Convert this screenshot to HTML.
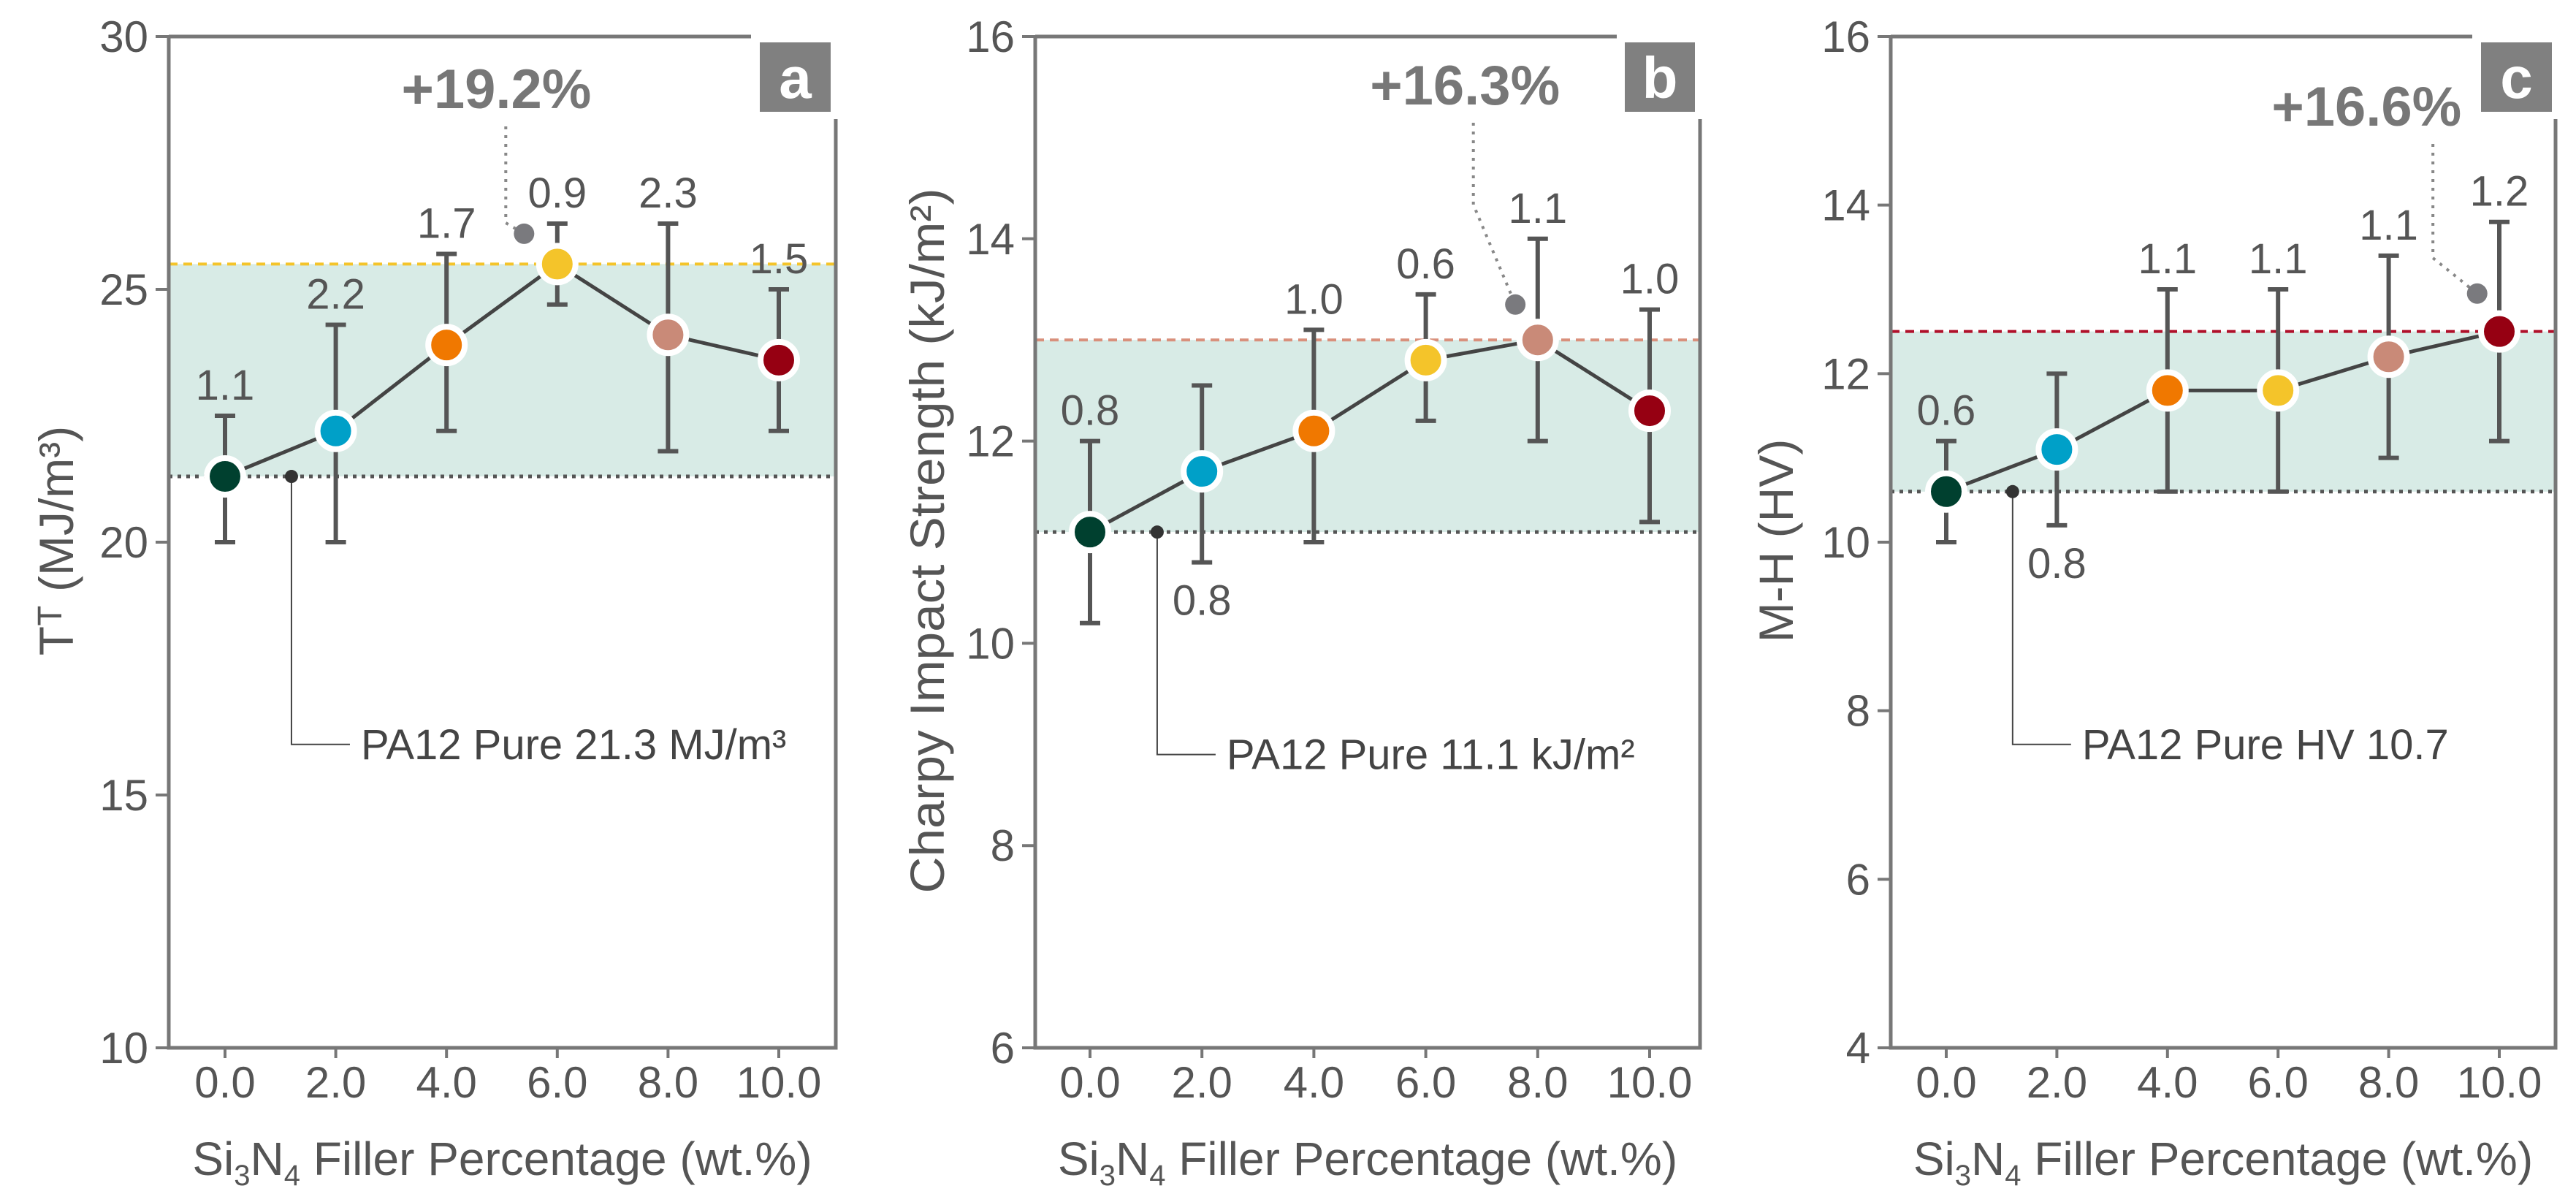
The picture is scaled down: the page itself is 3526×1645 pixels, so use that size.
<!DOCTYPE html>
<html><head><meta charset="utf-8">
<style>
html,body{margin:0;padding:0;background:#fff;}
svg{display:block;font-family:"Liberation Sans",sans-serif;}
</style></head>
<body>
<svg id="chart" width="3526" height="1645" viewBox="0 0 3526 1645" xmlns="http://www.w3.org/2000/svg"></svg>
<script>
const xCategories = [0, 2, 4, 6, 8, 10];
const xTickLabels = ["0.0", "2.0", "4.0", "6.0", "8.0", "10.0"];
const colors = ["#00402f", "#00a0c8", "#f07800", "#f4c42a", "#c98a78", "#960012"];

const aValues = [21.3, 22.2, 23.9, 25.5, 24.1, 23.6];
const aErrHi = [22.5, 24.3, 25.7, 26.3, 26.3, 25.0];
const aErrLo = [20.0, 20.0, 22.2, 24.7, 21.8, 22.2];
const aErrLabels = ["1.1", "2.2", "1.7", "0.9", "2.3", "1.5"];
const aYTicks = [10, 15, 20, 25, 30];

const bValues = [11.1, 11.7, 12.1, 12.8, 13.0, 12.3];
const bErrHi = [12.0, 12.55, 13.1, 13.45, 14.0, 13.3];
const bErrLo = [10.2, 10.8, 11.0, 12.2, 12.0, 11.2];
const bErrLabels = ["0.8", "0.8", "1.0", "0.6", "1.1", "1.0"];
const bYTicks = [6, 8, 10, 12, 14, 16];

const cValues = [10.6, 11.1, 11.8, 11.8, 12.2, 12.5];
const cErrHi = [11.2, 12.0, 13.0, 13.0, 13.4, 13.8];
const cErrLo = [10.0, 10.2, 10.6, 10.6, 11.0, 11.2];
const cErrLabels = ["0.6", "0.8", "1.1", "1.1", "1.1", "1.2"];
const cYTicks = [4, 6, 8, 10, 12, 14, 16];

const panels = [
  {id:"a", left:231, right:1144, x0:308, x10:1066, ymin:10, ymax:30, vals:aValues, hi:aErrHi, lo:aErrLo, labs:aErrLabels, ticks:aYTicks,
   lineEnd:1028, box:[1040,1137], lineColor:"#f4c42a", base:21.3, peak:25.5, below:[], pct:"+19.2%", pctX:4.9, lineX:5.07, pctBase:148, bendY:305, dotX:5.4, dotY:26.1,
   pureY:16.0, pure:"PA12 Pure 21.3 MJ/m³", title:"Tᵀ (MJ/m³)", titleX:78, titleLen:null},
  {id:"b", left:1417, right:2327, x0:1492, x10:2258, ymin:6, ymax:16, vals:bValues, hi:bErrHi, lo:bErrLo, labs:bErrLabels, ticks:bYTicks,
   lineEnd:2213, box:[2224,2320], lineColor:"#d9907c", base:11.1, peak:13.0, below:[1], pct:"+16.3%", pctX:6.7, lineX:6.85, pctBase:143, bendY:280, dotX:7.6, dotY:13.35,
   pureY:8.9, pure:"PA12 Pure 11.1 kJ/m²", title:"Charpy Impact Strength (kJ/m²)", titleX:1270, titleLen:965},
  {id:"c", left:2588, right:3498, x0:2664, x10:3421, ymin:4, ymax:16, vals:cValues, hi:cErrHi, lo:cErrLo, labs:cErrLabels, ticks:cYTicks,
   lineEnd:3384, box:[3396,3493], lineColor:"#b0102a", base:10.6, peak:12.5, below:[1], pct:"+16.6%", pctX:7.6, lineX:8.8, pctBase:172, bendY:353, dotX:9.6, dotY:12.95,
   pureY:7.6, pure:"PA12 Pure HV 10.7", title:"M-H (HV)", titleX:2432, titleLen:null}
];

const svg = document.getElementById('chart');
const NS = "http://www.w3.org/2000/svg";
function mk(tag, attrs, parent, text){
  const e = document.createElementNS(NS, tag);
  for (const k in attrs) e.setAttribute(k, attrs[k]);
  if (text !== undefined) e.textContent = text;
  (parent || svg).appendChild(e);
  return e;
}
const TOP = 50, BOT = 1434;
const txt = "#555";

panels.forEach(p => {
  const g = mk('g', {});
  
  
  const sx = v => p.x0 + (v - 0) * (p.x10 - p.x0) / 10;
  const sy = v => BOT - (v - p.ymin) * (BOT - TOP) / (p.ymax - p.ymin);

  const band = mk('rect', {x:p.left, y:sy(p.peak), width:p.right - p.left, height:sy(p.base) - sy(p.peak), fill:"#d8ebe6"}, g);
  
  
  const pk = mk('line', {x1:p.left, x2:p.right, y1:sy(p.peak), y2:sy(p.peak), stroke:p.lineColor, 'stroke-width':4, 'stroke-dasharray':'12 8'}, g);
  
  
  const bl = mk('line', {x1:p.left, x2:p.right, y1:sy(p.base), y2:sy(p.base), stroke:"#555", 'stroke-width':5, 'stroke-dasharray':'5 7'}, g);
  
  

  const ax = mk('path', {d:`M${p.left},${TOP} L${p.left},${BOT} L${p.right},${BOT} L${p.right},163 M${p.left},${TOP} L${p.lineEnd},${TOP}`, fill:"none", stroke:"#777", 'stroke-width':5}, g);
  
  
  const bx = mk('rect', {x:p.box[0], y:58, width:p.box[1]-p.box[0], height:95, fill:"#808080"}, g);
  
  
  const bt = mk('text', {x:(p.box[0]+p.box[1])/2, y:134, 'text-anchor':'middle', 'font-size':80, 'font-weight':'bold', fill:'#fff'}, g, p.id);
  
  

  p.ticks.forEach(t => {
    const tl = mk('line', {x1:p.left-18, x2:p.left, y1:sy(t), y2:sy(t), stroke:"#777", 'stroke-width':4}, g);
    
    
    const tt = mk('text', {x:p.left-28, y:sy(t)+21, 'text-anchor':'end', 'font-size':60, fill:txt}, g, String(t));
    
    
  });
  xCategories.forEach((c, i) => {
    const tl = mk('line', {x1:sx(c), x2:sx(c), y1:BOT, y2:BOT+14, stroke:"#777", 'stroke-width':4}, g);
    
    
    const tt = mk('text', {x:sx(c), y:1502, 'text-anchor':'middle', 'font-size':60, fill:txt}, g, xTickLabels[i]);
    
    
  });
  const xt = mk('text', {x:(p.left+p.right)/2, y:1608, 'text-anchor':'middle', 'font-size':64, fill:txt}, g);
  
  
  xt.innerHTML = 'Si<tspan font-size="40" dy="14">3</tspan><tspan dy="-14">N</tspan><tspan font-size="40" dy="14">4</tspan><tspan dy="-14"> Filler Percentage (wt.%)</tspan>';
  const ytAttrs = {x:0, y:0, 'text-anchor':'middle', 'font-size':66, fill:txt, transform:`translate(${p.titleX+22},740) rotate(-90)`};
  if (p.titleLen) { ytAttrs.textLength = p.titleLen; ytAttrs.lengthAdjust = 'spacingAndGlyphs'; }
  const yt = mk('text', ytAttrs, g, p.title);
  
  

  const pl = mk('path', {d:`M${sx(1.2)},${sy(p.base)} L${sx(1.2)},${sy(p.pureY)} L${sx(1.2)+80},${sy(p.pureY)}`, fill:"none", stroke:"#444", 'stroke-width':2}, g);
  
  
  const pd = mk('circle', {cx:sx(1.2), cy:sy(p.base), r:9, fill:"#333"}, g);
  
  
  const pt = mk('text', {x:sx(1.2)+95, y:sy(p.pureY)+20, 'font-size':58, fill:"#444"}, g, p.pure);
  
  

  const dl = mk('path', {d:`M${sx(p.lineX)},${p.pctBase+25} L${sx(p.lineX)},${p.bendY} L${sx(p.dotX)},${sy(p.dotY)}`, fill:"none", stroke:"#888", 'stroke-width':4, 'stroke-dasharray':'4 8'}, g);
  
  
  const dd = mk('circle', {cx:sx(p.dotX), cy:sy(p.dotY), r:14, fill:"#7a7a7e"}, g);
  
  
  const pc = mk('text', {x:sx(p.pctX), y:p.pctBase, 'text-anchor':'middle', 'font-size':76, 'font-weight':'bold', fill:"#777"}, g, p.pct);
  
  

  const pts = xCategories.map((c, i) => `${sx(c)},${sy(p.vals[i])}`).join(' ');
  const ln = mk('polyline', {points:pts, fill:"none", stroke:"#444", 'stroke-width':5}, g);
  
  
  xCategories.forEach((c, i) => {
    const x = sx(c);
    const eb = mk('path', {d:`M${x},${sy(p.hi[i])} L${x},${sy(p.lo[i])} M${x-14},${sy(p.hi[i])} L${x+14},${sy(p.hi[i])} M${x-14},${sy(p.lo[i])} L${x+14},${sy(p.lo[i])}`, stroke:"#555", 'stroke-width':6, fill:"none"}, g);
    
    
  });
  xCategories.forEach((c, i) => {
    const x = sx(c);
    const m = mk('circle', {cx:x, cy:sy(p.vals[i]), r:25, fill:colors[i], stroke:"#fff", 'stroke-width':8}, g);
    
    
    const below = p.below.includes(i);
    const ly = below ? sy(p.lo[i]) + 72 : sy(p.hi[i]) - 22;
    const lt = mk('text', {x:x, y:ly, 'text-anchor':'middle', 'font-size':58, fill:txt}, g, p.labs[i]);
    
    
  });
});
</script>
</body></html>
